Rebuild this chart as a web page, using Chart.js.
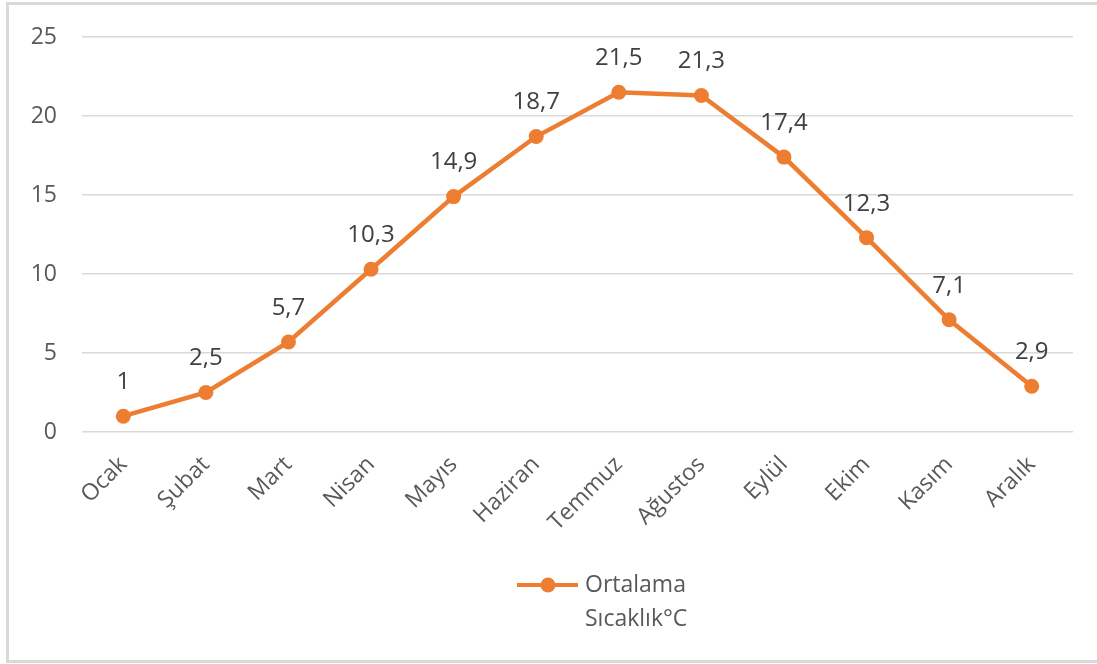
<!DOCTYPE html>
<html>
<head>
<meta charset="utf-8">
<script src="https://cdn.jsdelivr.net/npm/chart.js@4"></script>
<style>
  html, body { margin: 0; padding: 0; background: #fff; overflow: hidden; }
  .frame {
    position: absolute;
    left: 6px; top: 2px;
    width: 1094px; height: 655px;
    border: 3px solid #d9d9d9;
    border-right: none;
    background: #fff;
  }
  .frame canvas { display: block; }
</style>
</head>
<body>
<div class="frame">
  <canvas id="temp-chart" width="1094" height="655"></canvas>
</div>
<script>
const months = ['Ocak', 'Şubat', 'Mart', 'Nisan', 'Mayıs', 'Haziran', 'Temmuz', 'Ağustos', 'Eylül', 'Ekim', 'Kasım', 'Aralık'];
const avgTemp = [1, 2.5, 5.7, 10.3, 14.9, 18.7, 21.5, 21.3, 17.4, 12.3, 7.1, 2.9];
const seriesName = ['Ortalama', 'Sıcaklık°C'];
const yTicks = [0, 5, 10, 15, 20, 25];

const ORANGE = '#ed7d31';
const TEXT = '#595959';
const FONT = '"Open Sans", sans-serif';

// value labels above each point, comma as decimal separator
const valueLabels = {
  id: 'valueLabels',
  afterDatasetsDraw(chart) {
    const ctx = chart.ctx;
    const meta = chart.getDatasetMeta(0);
    ctx.save();
    ctx.font = '24px ' + FONT;
    ctx.fillStyle = '#404040';
    ctx.textAlign = 'center';
    ctx.textBaseline = 'middle';
    meta.data.forEach((pt, i) => {
      const txt = String(avgTemp[i]).replace('.', ',');
      ctx.fillText(txt, pt.x, pt.y - 34);
    });
    ctx.restore();
  }
};

// two-line legend centred under the axis
const bottomLegend = {
  id: 'bottomLegend',
  afterDraw(chart) {
    const ctx = chart.ctx;
    const area = chart.chartArea;
    const y = area.bottom + 153;
    const x0 = 508;
    ctx.save();
    ctx.strokeStyle = ORANGE;
    ctx.lineWidth = 4;
    ctx.beginPath();
    ctx.moveTo(x0, y);
    ctx.lineTo(x0 + 61, y);
    ctx.stroke();
    ctx.fillStyle = ORANGE;
    ctx.beginPath();
    ctx.arc(x0 + 31, y, 7.5, 0, Math.PI * 2);
    ctx.fill();
    ctx.font = '23px ' + FONT;
    ctx.fillStyle = TEXT;
    ctx.textAlign = 'left';
    ctx.textBaseline = 'middle';
    ctx.fillText(seriesName[0], x0 + 68, y);
    ctx.fillText(seriesName[1], x0 + 68, y + 34);
    ctx.restore();
  }
};

new Chart(document.getElementById('temp-chart').getContext('2d'), {
  type: 'line',
  data: {
    labels: months,
    datasets: [
      {
        label: seriesName.join(' '),
        data: avgTemp,
        borderColor: ORANGE,
        backgroundColor: ORANGE,
        borderWidth: 4.5,
        pointRadius: 7.5,
        pointHoverRadius: 7.5,
        pointBorderWidth: 0,
        tension: 0,
      },
    ]
  },
  options: {
    responsive: false,
    animation: false,
    layout: {
      autoPadding: false,
      padding: { top: 32, right: 30, left: 0, bottom: 0 }
    },
    plugins: {
      legend: { display: false },
      tooltip: { enabled: false },
    },
    scales: {
      x: {
        offset: true,
        grid: { display: false },
        border: { display: false },
        ticks: {
          color: TEXT,
          font: { family: FONT, size: 23 },
          minRotation: 45,
          maxRotation: 45,
          padding: 11,
        },
        afterFit(scale) {
          scale.height = 228;
          scale.paddingLeft = 0;
          scale.paddingRight = 0;
        }
      },
      y: {
        min: 0,
        max: 25,
        afterBuildTicks(scale) { scale.ticks = yTicks.map(v => ({ value: v })); },
        grid: { color: '#d9d9d9', lineWidth: 1.5, drawTicks: false },
        border: { display: false },
        ticks: {
          color: TEXT,
          font: { family: FONT, size: 23 },
          padding: 25,
        },
        afterFit(scale) {
          scale.width = 73;
          scale.paddingTop = 0;
          scale.paddingBottom = 0;
        }
      }
    }
  },
  plugins: [valueLabels, bottomLegend]
});
</script>
</body>
</html>
